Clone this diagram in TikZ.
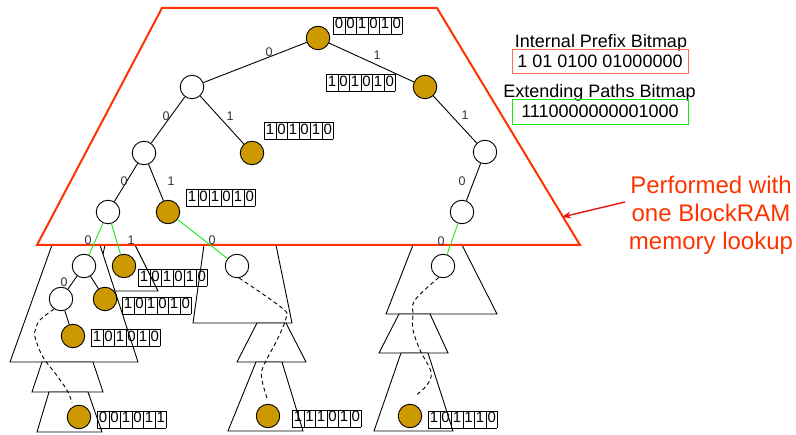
\documentclass[tikz,border=0pt]{standalone}
\usepackage{fontspec}
\setmainfont{Liberation Sans}
\usepackage{tikz}
\usetikzlibrary{arrows.meta}

\definecolor{strideRed}{RGB}{255,51,0}
\definecolor{ipbRed}{RGB}{255,110,70}
\definecolor{prefixGold}{RGB}{204,153,0}
\definecolor{pathGreen}{RGB}{20,235,20}
\definecolor{arrowRed}{RGB}{232,20,20}

% one row of six bit cells
\newcommand{\bitrow}[6]{{\setlength{\tabcolsep}{1.6pt}%
  \begin{tabular}{|c|c|c|c|c|c|}\hline #1&#2&#3&#4&#5&#6\\\hline\end{tabular}}}

\begin{document}
\begin{tikzpicture}[x=1pt, y=-1pt,
    hollow/.style={circle, draw, line width=.9pt, minimum size=23.5pt, inner sep=0pt, fill=white},
    filled/.style={hollow, fill=prefixGold},
    link/.style={line width=.9pt},
    greenlink/.style={line width=.9pt, draw=pathGreen},
    lbl/.style={font=\fontsize{12.5}{12.5}\selectfont, text=black!80, inner sep=0pt},
    bits/.style={anchor=west, inner sep=0pt, font=\fontsize{15}{17}\selectfont},
    sub/.style={draw, line width=.9pt, fill=white},
    walk/.style={line width=.9pt, dash pattern=on 4pt off 3pt}]
    \useasboundingbox (0,0) rectangle (796,435);

    % Subtrees below the stride
    \draw[sub] (105,245) -- (135,245) -- (158,291) -- (95,291) -- cycle;
    \draw[sub] (52,245) -- (100,245) -- (138,362) -- (10,362) -- cycle;
    \draw[sub] (42,362) -- (93,362) -- (103,392) -- (32,392) -- cycle;
    \draw[sub] (49,392) -- (88,392) -- (102,432) -- (37,432) -- cycle;
    \draw[sub] (204,245) -- (276,245) -- (292,323) -- (193,323) -- cycle;
    \draw[sub] (257,323) -- (286,323) -- (306,362) -- (237,362) -- cycle;
    \draw[sub] (256,362) -- (282,362) -- (303,431) -- (228,431) -- cycle;
    \draw[sub] (413,245) -- (462,245) -- (497,314) -- (386,314) -- cycle;
    \draw[sub] (399,314) -- (430,314) -- (448,353) -- (379,353) -- cycle;
    \draw[sub] (401,353) -- (428,353) -- (453,431) -- (374,431) -- cycle;

    % The stride read in one lookup
    \draw[strideRed, line width=2pt] (162,8) -- (437,8) -- (580,245) -- (37,245) -- cycle;

    % Trie nodes
    \node[filled] (root) at (318,38) {};
    \node[hollow] (nL) at (192,87) {};
    \node[filled] (nR) at (425,87) {};
    \node[hollow] (nLL) at (144,153) {};
    \node[filled] (nLR) at (252,153) {};
    \node[hollow] (nLLL) at (108,212) {};
    \node[filled] (nLLR) at (168,212) {};
    \node[hollow] (nR1) at (485,152) {};
    \node[hollow] (nR10) at (462,212) {};
    \node[hollow] (nA) at (84,266) {};
    \node[filled] (nB) at (124,266) {};
    \node[hollow] (nM) at (237,266) {};
    \node[hollow] (nQ) at (443,266) {};
    \node[hollow] (nC) at (61,299) {};
    \node[filled] (nD) at (105,299) {};
    \node[filled] (nE) at (73,336) {};
    \node[filled] (leafL) at (79,417) {};
    \node[filled] (leafM) at (268,416) {};
    \node[filled] (leafR) at (410,416) {};

    % Branches
    \draw[link] (root) -- (nL);
    \draw[link] (root) -- (nR);
    \draw[link] (nL) -- (nLL);
    \draw[link] (nL) -- (nLR);
    \draw[link] (nLL) -- (nLLL);
    \draw[link] (nLL) -- (nLLR);
    \draw[link] (nR) -- (nR1);
    \draw[link] (nR1) -- (nR10);
    \draw[greenlink] (nLLL) -- (nA);
    \draw[greenlink] (nLLL) -- (nB);
    \draw[greenlink] (nLLR) -- (nM);
    \draw[greenlink] (nR10) -- (nQ);
    \draw[link] (nA) -- (nC);
    \draw[link] (nA) -- (nD);
    \draw[link] (nC) -- (nE);

    % Paths further down
    \draw[walk] plot[smooth, tension=.6] coordinates {(nC.235) (40,320) (36,328) (35,337) (43,357) (58,377) (68,392) (72,403)};
    \draw[walk] plot[smooth, tension=.6] coordinates {(nM.-80) (282,308) (286,318) (277,340) (263,367) (262,380) (267,398)};
    \draw[walk] plot[smooth, tension=.6] coordinates {(nQ.-110) (415,300) (413,315) (413,330) (420,350) (431,372) (427,385) (415,396)};

    % Branch labels
    \node[lbl] (t1) at (269,52) {0};
    \node[lbl] (t2) at (377,55) {1};
    \node[lbl] (t3) at (166,116) {0};
    \node[lbl] (t4) at (230,116) {1};
    \node[lbl] (t5) at (124,181) {0};
    \node[lbl] (t6) at (171,181) {1};
    \node[lbl] (t7) at (88,240) {0};
    \node[lbl] (t8) at (131,240) {1};
    \node[lbl] (t9) at (212,240) {0};
    \node[lbl] (t10) at (465,115) {1};
    \node[lbl] (t11) at (462,181) {0};
    \node[lbl] (t12) at (441,241) {0};
    \node[lbl] (t13) at (64,282) {0};

    % Next hop bits
    \node[bits] (b0) at (333,25.5) {\bitrow001010};
    \node[bits] (b1) at (326,83) {\bitrow101010};
    \node[bits] (b2) at (264,131) {\bitrow101010};
    \node[bits] (b3) at (186,198) {\bitrow101010};
    \node[bits] (b4) at (138,278) {\bitrow101010};
    \node[bits] (b5) at (122,305.5) {\bitrow101010};
    \node[bits] (b6) at (91,338) {\bitrow101010};
    \node[bits] (b7) at (97,419.5) {\bitrow001011};
    \node[bits] (b8) at (292,418.5) {\bitrow111010};
    \node[bits] (b9) at (428,419.5) {\bitrow101110};

    % Bitmaps
    \node[anchor=base, font=\fontsize{18}{18}\selectfont] (ipbTitle) at (601,47.3) {Internal Prefix Bitmap};
    \node[draw=ipbRed, line width=.9pt, minimum width=176pt, minimum height=24pt, inner sep=0pt,
          font=\fontsize{18}{18}\selectfont] (ipb) at (600,61) {1 01 0100 01000000};
    \node[anchor=base, font=\fontsize{18}{18}\selectfont] (epbTitle) at (599.5,97.3) {Extending Paths Bitmap};
    \node[draw=pathGreen, line width=.9pt, minimum width=176pt, minimum height=25pt, inner sep=0pt,
          font=\fontsize{18}{18}\selectfont] (epb) at (600,111.5) {1110000000001000};

    % Note
    \node[align=center, text=strideRed, font=\fontsize{24}{28}\selectfont] (perf) at (711,215)
        {Performed with\\one BlockRAM\\memory lookup};
    \coordinate (arrFrom) at (625,202);
    \coordinate (arrTo) at (562,217);
    \draw[arrowRed, line width=1.4pt, -{Stealth[length=9pt, width=7pt]}] (arrFrom) -- (arrTo);
\end{tikzpicture}
\end{document}
